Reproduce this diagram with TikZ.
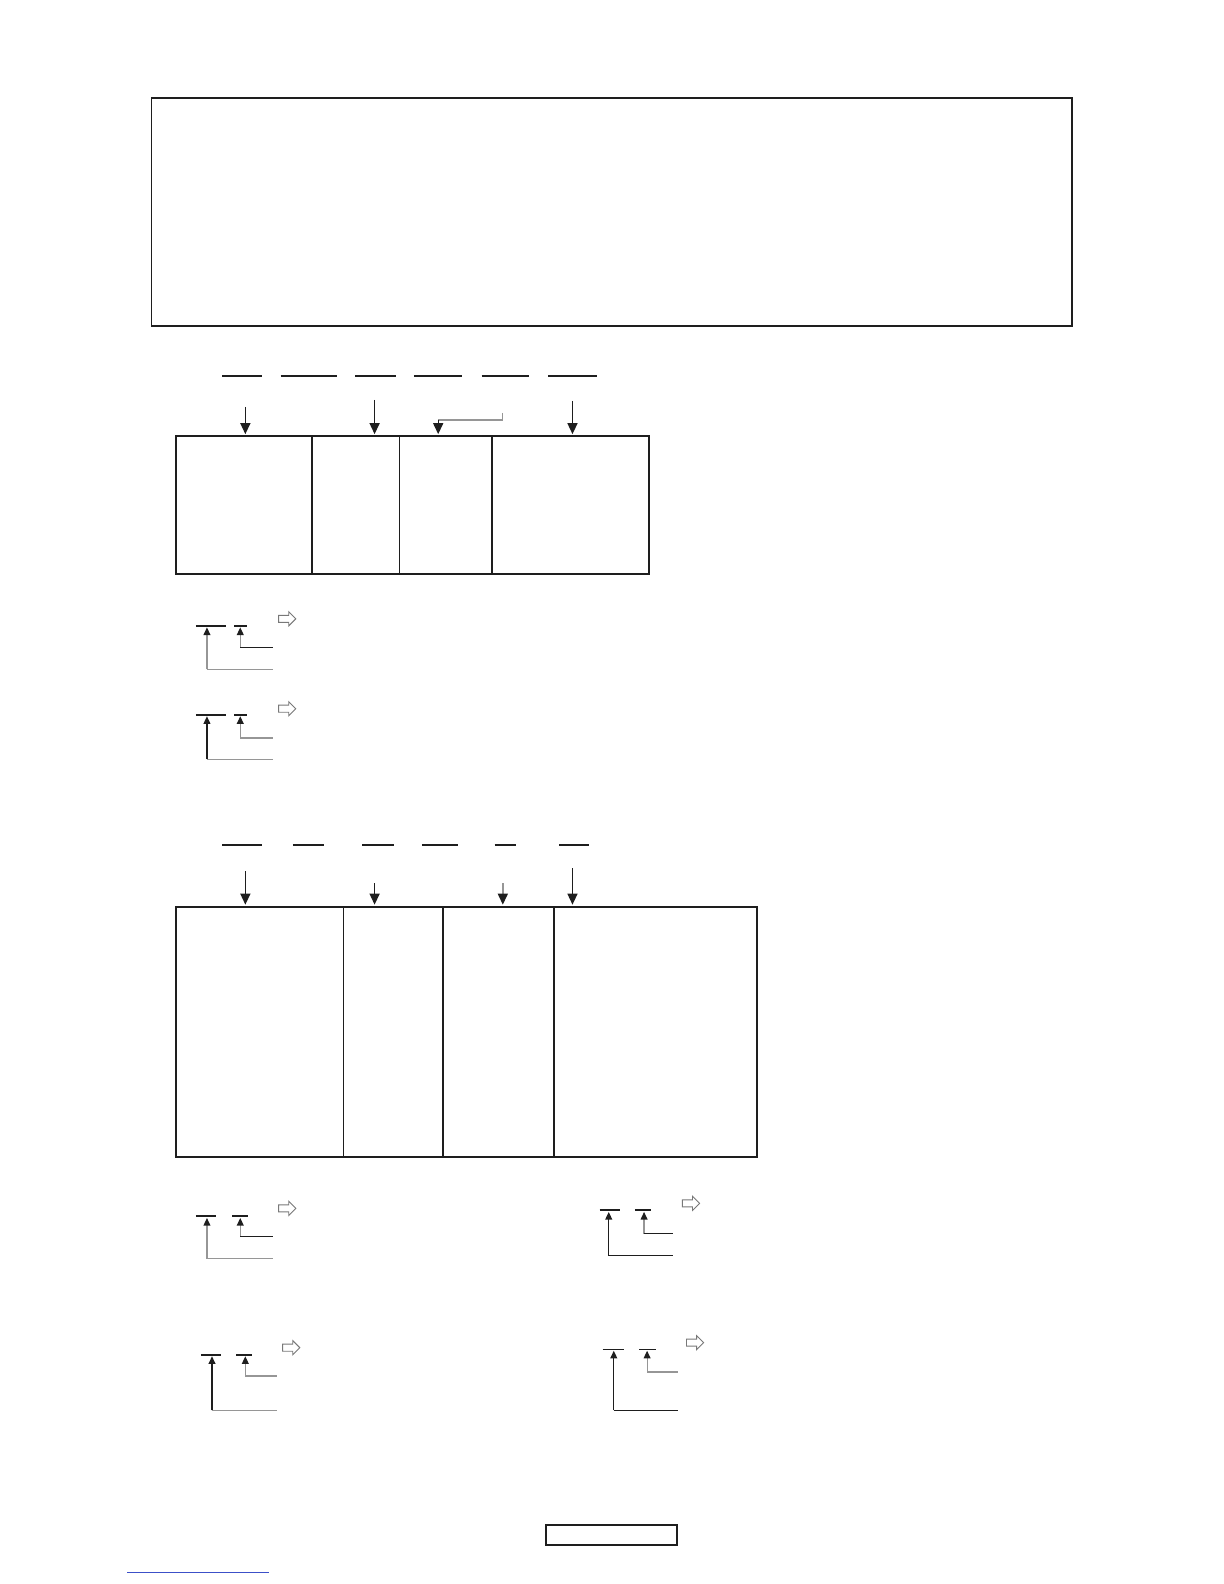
\documentclass[tikz,border=0pt]{standalone}
\usetikzlibrary{arrows.meta}
\definecolor{ink}{RGB}{30,30,30}
\definecolor{lgray}{RGB}{150,150,150}
\definecolor{linkblue}{RGB}{60,80,200}
\tikzset{
  frame/.style={draw=ink,line width=0.75pt},
  boxline/.style={draw=ink,line width=1pt},
  divline/.style={draw=ink,line width=0.7pt},
  bar/.style={draw=ink,line width=1pt},
  thinbar/.style={draw=ink,line width=0.6pt},
  bigarrow/.style={draw=ink,line width=0.7pt,-{Triangle[length=5.5pt,width=5pt]}},
  grayarrow/.style={draw=lgray,line width=0.7pt,-{Triangle[length=5.5pt,width=5pt,color=ink]}},
  elbow/.style={draw=lgray,line width=0.6pt},
  legline/.style={line width=0.6pt},
  legtip/.style={-{Triangle[length=3.8pt,width=3.4pt,color=ink]}},
  hollow/.style={draw=lgray!80!black,line width=0.45pt,fill=white},
}
\newcommand{\hollowarrow}[2]{% x0, y centre
  \draw[hollow] (#1,#2-3.5) -- (#1+10,#2-3.5) -- (#1+10,#2-7) -- (#1+17,#2) -- (#1+10,#2+7) -- (#1+10,#2+3.5) -- (#1,#2+3.5) -- cycle;}
\begin{document}
\begin{tikzpicture}[x=0.5pt,y=-0.5pt]
\useasboundingbox (0,0) rectangle (1224,1584);
\begin{scope}[scale=1.0095]
% top frame
\draw[frame] (150,97) rectangle (1062,323);

% ---------- section 1 ----------
\foreach \a/\b in {220/260,278/334,352/392,410/458,477/524,543/591}
  \draw[bar] (\a,372) -- (\b,372);
\draw[boxline] (174,432) rectangle (643,569);
\draw[divline] (309,432) -- (309,569);
\draw[divline] (396,432) -- (396,569);
\draw[boxline] (487,432) -- (487,569);
\coordinate (s1a) at (243,403);  \coordinate (t1a) at (243,430);
\coordinate (s1b) at (371,396);  \coordinate (t1b) at (371,430);
\coordinate (s1d) at (567,397);  \coordinate (t1d) at (567,430);
\coordinate (e1) at (498,409);   \coordinate (e2) at (498,416);
\coordinate (e3) at (434,416);   \coordinate (t1c) at (434,430);
\draw[bigarrow] (s1a) -- (t1a);
\draw[bigarrow] (s1b) -- (t1b);
\draw[bigarrow] (s1d) -- (t1d);
\draw[elbow] (e1) -- (e2) -- (e3);
\draw[bigarrow] (e3) -- (t1c);

% legend A
\draw[bar] (194,620) -- (224,620);
\draw[bar] (232,620) -- (245,620);
\hollowarrow{276}{613}
\draw[legline,lgray,legtip] (238,641) -- (238,621.5);
\draw[legline,ink] (238,641) -- (270,641);
\draw[legline,lgray,legtip] (205,663) -- (205,621.5);
\draw[legline,lgray] (205,663) -- (270,663);

% legend B
\draw[bar] (194,708) -- (224,708);
\draw[bar] (232,708) -- (245,708);
\hollowarrow{276}{702}
\draw[legline,lgray,legtip] (238,731) -- (238,709.5);
\draw[legline,lgray] (238,731) -- (270,731);
\draw[legline,ink,legtip] (205,752) -- (205,709.5);
\draw[legline,lgray] (205,752) -- (270,752);

% ---------- section 2 ----------
\foreach \a/\b in {220/260,290/321,359/390,418/454,490/511,554/583}
  \draw[bar] (\a,837) -- (\b,837);
\draw[boxline] (174,898) rectangle (750,1146);
\draw[divline] (340,898) -- (340,1146);
\draw[divline] (439,898) -- (439,1146);
\draw[boxline] (549,898) -- (549,1146);
\coordinate (s2a) at (243,863);  \coordinate (t2a) at (243,896);
\coordinate (s2b) at (371,875);  \coordinate (t2b) at (371,896);
\coordinate (s2c) at (498,875);  \coordinate (t2c) at (498,896);
\coordinate (s2d) at (567,860);  \coordinate (t2d) at (567,896);
\draw[bigarrow] (s2a) -- (t2a);
\draw[bigarrow] (s2b) -- (t2b);
\draw[grayarrow] (s2c) -- (t2c);
\draw[bigarrow] (s2d) -- (t2d);

% legend C
\draw[bar] (194,1205) -- (214,1205);
\draw[bar] (230,1205) -- (246,1205);
\hollowarrow{276}{1197}
\draw[legline,lgray,legtip] (238,1225) -- (238,1206.5);
\draw[legline,ink] (238,1225) -- (270,1225);
\draw[legline,lgray,legtip] (205,1247) -- (205,1206.5);
\draw[legline,lgray] (205,1247) -- (270,1247);

% legend D
\draw[bar] (199,1342) -- (219,1342);
\draw[bar] (234,1342) -- (250,1342);
\hollowarrow{280}{1335}
\draw[legline,lgray,legtip] (243,1363) -- (243,1343.5);
\draw[legline,lgray] (243,1363) -- (274,1363);
\draw[legline,ink,legtip] (210,1397) -- (210,1343.5);
\draw[legline,lgray] (210,1397) -- (274,1397);

% legend E
\draw[bar] (594,1199) -- (614,1199);
\draw[bar] (629,1199) -- (645,1199);
\hollowarrow{676}{1192}
\draw[legline,lgray,legtip] (638,1222) -- (638,1200.5);
\draw[legline,ink] (638,1222) -- (667,1222);
\draw[legline,ink,legtip] (603,1244) -- (603,1200.5);
\draw[legline,ink] (603,1244) -- (667,1244);

% legend F
\draw[thinbar] (597,1337) -- (618,1337);
\draw[thinbar] (633,1337) -- (650,1337);
\hollowarrow{680}{1330}
\draw[legline,lgray,legtip] (641,1359) -- (641,1338);
\draw[legline,lgray] (641,1359) -- (672,1359);
\draw[legline,ink,legtip] (608,1397) -- (608,1338);
\draw[legline,ink] (608,1397) -- (672,1397);

% bottom box and link line
\draw[boxline] (541,1511) rectangle (671,1530);
\draw[linkblue,line width=0.5pt] (126,1558) -- (266,1558);
\end{scope}
\end{tikzpicture}
\end{document}
